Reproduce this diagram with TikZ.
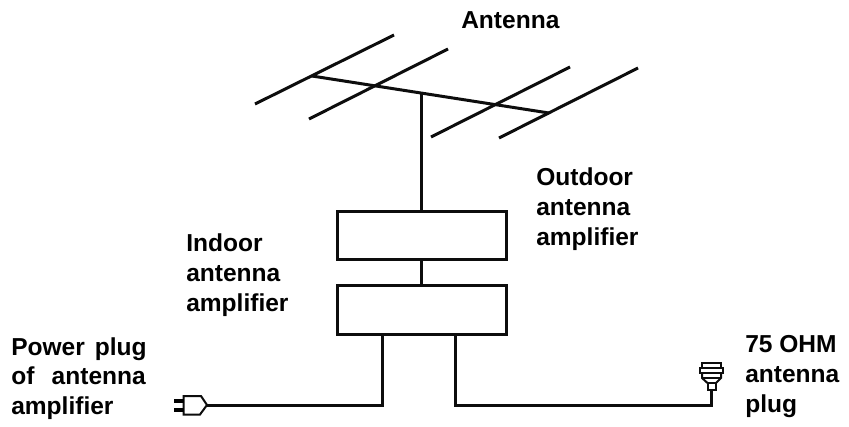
\documentclass[tikz,border=0pt]{standalone}
\usepackage{fontspec}
\setmainfont{Liberation Sans}
\tikzset{
  wire/.style={line width=2.25pt, line cap=butt, line join=miter, black!95},
  thin wire/.style={line width=1.5pt, black!95},
  unit/.style={draw=black!95, line width=2.25pt, minimum width=126.75pt, minimum height=36.4pt, inner sep=0pt, anchor=north west},
  lbl/.style={font=\bfseries\fontsize{18.4}{22.8}\selectfont, align=left, anchor=north west, inner sep=0pt, text=black},
  lblb/.style={lbl, font=\bfseries\fontsize{18.4}{22.4}\selectfont},
}
\begin{document}
\begin{tikzpicture}[x=0.75pt,y=-0.75pt]
\useasboundingbox (0,0) rectangle (849,426);
\fill[white] (0,0) rectangle (849,426);
\coordinate (r1a) at (255,104); \coordinate (r1b) at (394,35);
\coordinate (r2a) at (309,119); \coordinate (r2b) at (448,49);
\coordinate (r3a) at (431,137); \coordinate (r3b) at (570,67);
\coordinate (r4a) at (499,138); \coordinate (r4b) at (638,68);
\coordinate (ba) at (312,76); \coordinate (bb) at (549,113);
\coordinate (mt) at (421.7,93);
\draw[wire] (r1a)--(r1b); \draw[wire] (r2a)--(r2b);
\draw[wire] (r3a)--(r3b); \draw[wire] (r4a)--(r4b);
\draw[wire] (ba)--(bb);
\node[unit] (top) at (336,209.5) {};
\node[unit] (bot) at (336,284) {};
\draw[wire] (mt)--(top.north -| mt);
\draw[wire] (top.south -| mt)--(bot.north -| mt);
\node[inner sep=0pt,minimum size=0pt] (pwr) at (207,405) {};
\node[inner sep=0pt,minimum size=0pt] (ant) at (711.7,405) {};
\coordinate (w1) at (382.5,333); \coordinate (w2) at (455.5,333);
\draw[wire] (bot.south -| w1)--(w1 |- pwr)--(pwr.center);
\draw[wire] (bot.south -| w2)--(w2 |- ant)--(ant.center)--(711.7,390);
% power plug
\draw[thin wire] (207,405)--(200,414.5)--(183.5,414.5)--(183.5,396)--(201,396)--cycle;
\draw[line width=2.4pt] (174,401)--(183.5,401) (174,410)--(183.5,410);
% antenna plug
\draw[thin wire] (707.5,383) rectangle (716,390);
\draw[thin wire] (707.5,383)--(702,378)--(702,373) (716,383)--(721,378)--(721,373);
\draw[thin wire] (699.5,368) rectangle (722.5,373);
\draw[thin wire] (702,368)--(702,362.5)--(720.5,362.5)--(720.5,368);
\draw[thin wire] (702,378)--(721,378);
% labels
\node[lbl] (l1) at (461,11) {Antenna};
\node[lbl] (l2) at (536,167) {Outdoor\\antenna\\amplifier};
\node[lbl] (l3) at (186,233) {Indoor\\antenna\\amplifier};
\node[lblb] (l4) at (11,337) {Power\hspace{7.5pt}plug\\of\hspace{13pt}antenna\\amplifier};
\node[lblb] (l5) at (745,335) {75 OHM\\antenna\\plug};
\end{tikzpicture}
\end{document}
